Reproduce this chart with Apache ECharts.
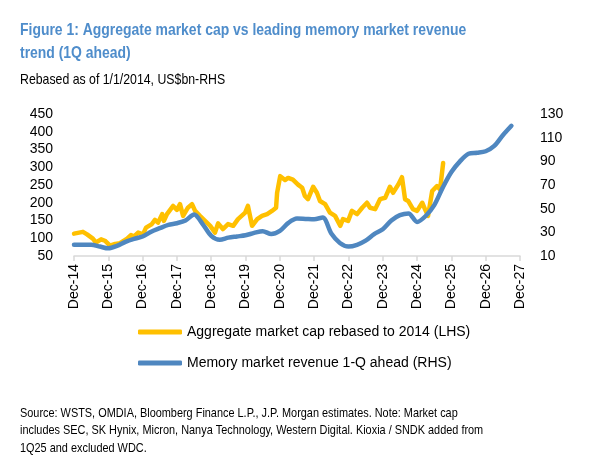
<!DOCTYPE html>
<html>
<head>
<meta charset="utf-8">
<script src="https://cdn.jsdelivr.net/npm/echarts@6/dist/echarts.min.js"></script>
<style>
  html, body { margin: 0; padding: 0; background: #fff; }
  #chart { width: 613px; height: 468px; }
</style>
</head>
<body>
<div id="chart"></div>
<script>
// Aggregate memory market cap (LHS, rebased) vs memory revenue 1Q ahead (RHS, US$bn).
// x values are years since Dec-14.

const xTickLabels = ["Dec-14", "Dec-15", "Dec-16", "Dec-17", "Dec-18", "Dec-19", "Dec-20",
  "Dec-21", "Dec-22", "Dec-23", "Dec-24", "Dec-25", "Dec-26", "Dec-27"];

const capT = [0.00, 0.26, 0.38, 0.55, 0.64, 0.79, 0.90, 1.05, 1.20, 1.34, 1.55, 1.66, 1.75, 1.87,
  2.01, 2.10, 2.27, 2.36, 2.45, 2.57, 2.62, 2.71, 2.89, 3.00, 3.09, 3.18, 3.32, 3.44, 3.53, 3.67,
  3.82, 3.97, 4.11, 4.20, 4.34, 4.49, 4.64, 4.78, 4.99, 5.07, 5.19, 5.34, 5.48, 5.63, 5.77, 5.89,
  5.92, 6.01, 6.15, 6.24, 6.38, 6.53, 6.65, 6.73, 6.82, 6.97, 7.08, 7.17, 7.32, 7.46, 7.61, 7.76,
  7.84, 7.99, 8.10, 8.25, 8.40, 8.54, 8.63, 8.78, 8.92, 9.07, 9.21, 9.30, 9.45, 9.56, 9.65, 9.74,
  9.88, 10.00, 10.15, 10.23, 10.32, 10.44, 10.58, 10.67, 10.76];
const capValues = [113, 118, 111, 99, 88, 97, 93, 79, 84, 86, 99, 109, 105, 116,
  111, 130, 140, 152, 144, 168, 149, 168, 191, 180, 196, 163, 186, 196, 177, 163,
  149, 135, 116, 142, 126, 140, 135, 154, 172, 191, 135, 154, 163, 168, 177, 186,
  228, 275, 264, 270, 265, 251, 242, 219, 210, 245, 228, 205, 196, 172, 163, 135,
  154, 149, 177, 168, 186, 200, 186, 182, 210, 214, 245, 228, 251, 272, 210, 205,
  182, 177, 200, 182, 163, 233, 247, 237, 312];

const revT = [0, 0.25, 0.5, 0.75, 1, 1.25, 1.5, 1.75, 2, 2.25, 2.5, 2.75, 3, 3.25, 3.5, 3.75,
  4, 4.25, 4.5, 4.75, 5, 5.25, 5.5, 5.75, 6, 6.25, 6.5, 6.75, 7, 7.25, 7.5, 7.75, 8, 8.25,
  8.5, 8.75, 9, 9.25, 9.5, 9.75, 10, 10.25, 10.5, 10.75, 11, 11.25, 11.5, 11.75, 12, 12.25,
  12.5, 12.75];
const revValues = [19.5, 19.5, 19.5, 18, 16.5, 18.5, 22, 24.5, 26.5, 30.5, 33.5, 36.3, 37.7, 40,
  45, 37, 27, 23.7, 25.5, 26.5, 27.5, 29.5, 31, 28.5, 31.2, 38, 41.6, 41.3, 41, 42.5, 29, 21,
  18, 19.5, 23, 28.5, 32.6, 40, 44.5, 46, 38.8, 43.8, 53, 68, 81, 90, 96.4, 97.2, 98.5, 103,
  112, 120];

const leftTicks = { min: 50, max: 450, interval: 50 };
const rightTicks = { min: 10, max: 130, interval: 20 };

const titleLines = ["Figure 1: Aggregate market cap vs leading memory market revenue", "trend (1Q ahead)"];
const subtitle = "Rebased as of 1/1/2014, US$bn-RHS";
const noteLines = [
  "Source: WSTS, OMDIA, Bloomberg Finance L.P., J.P. Morgan estimates. Note: Market cap",
  "includes SEC, SK Hynix, Micron, Nanya Technology, Western Digital. Kioxia / SNDK added from",
  "1Q25 and excluded WDC.",
];

const FONT = "'Liberation Sans', Arial, sans-serif";
const GOLD = "#FFC000", BLUE = "#4F87C0", TITLE_BLUE = "#4F8DCB";
const NARROW = 0.82; // the source uses a narrow face; squeeze the header/footer text

const zip = (xs, ys) => xs.map((x, i) => [x, ys[i]]);

// header + footnote as squeezed text lines (left-aligned at x=20, vertically centred on y)
const textLine = (text, y, size, color, weight) => ({
  type: "text", x: 20, y, scaleX: NARROW, silent: true,
  style: { text, fill: color, font: `${weight || "normal"} ${size}px ${FONT}`, textVerticalAlign: "middle" },
});
const graphics = [
  textLine(titleLines[0], 30, 17, TITLE_BLUE, "bold"),
  textLine(titleLines[1], 53, 17, TITLE_BLUE, "bold"),
  textLine(subtitle, 80, 15, "#000"),
  ...noteLines.map((t, i) => textLine(t, 413 + i * 17.5, 13.3, "#000")),
];

const chart = echarts.init(document.getElementById("chart"), null, { renderer: "canvas" });
chart.setOption({
  animation: false,
  textStyle: { fontFamily: FONT },
  graphic: graphics,
  legend: {
    orient: "vertical", left: 133, top: 320, itemGap: 17,
    itemWidth: 44, itemHeight: 5, icon: "roundRect",
    textStyle: { color: "#000", fontSize: 14, fontFamily: FONT },
    data: ["Aggregate market cap rebased to 2014 (LHS)", "Memory market revenue 1-Q ahead (RHS)"],
  },
  grid: { left: 74, right: 93, top: 114, bottom: 212 },
  xAxis: {
    type: "value", min: 0, max: 13, interval: 1,
    axisLine: { lineStyle: { color: "#D9D9D9", width: 1.5 } },
    axisTick: { show: true, length: 5, lineStyle: { color: "#D9D9D9", width: 1.5 } },
    splitLine: { show: false },
    axisLabel: { rotate: 90, margin: 8, color: "#000", fontSize: 14, fontFamily: FONT,
      formatter: (v) => xTickLabels[Math.round(v)] || "" },
  },
  yAxis: [
    { type: "value", position: "left", ...leftTicks,
      axisLine: { show: false }, axisTick: { show: false }, splitLine: { show: false },
      axisLabel: { color: "#000", fontSize: 14, fontFamily: FONT, margin: 21 } },
    { type: "value", position: "right", ...rightTicks,
      axisLine: { show: false }, axisTick: { show: false }, splitLine: { show: false },
      axisLabel: { color: "#000", fontSize: 14, fontFamily: FONT, margin: 20 } },
  ],
  series: [
    { name: "Aggregate market cap rebased to 2014 (LHS)", type: "line", yAxisIndex: 0,
      data: zip(capT, capValues), symbol: "none", smooth: false,
      itemStyle: { color: GOLD }, lineStyle: { color: GOLD, width: 4.5, cap: "round", join: "round" } },
    { name: "Memory market revenue 1-Q ahead (RHS)", type: "line", yAxisIndex: 1,
      data: zip(revT, revValues), symbol: "none", smooth: 0.3,
      itemStyle: { color: BLUE }, lineStyle: { color: BLUE, width: 4.5, cap: "round", join: "round" } },
  ],
});
</script>
</body>
</html>
